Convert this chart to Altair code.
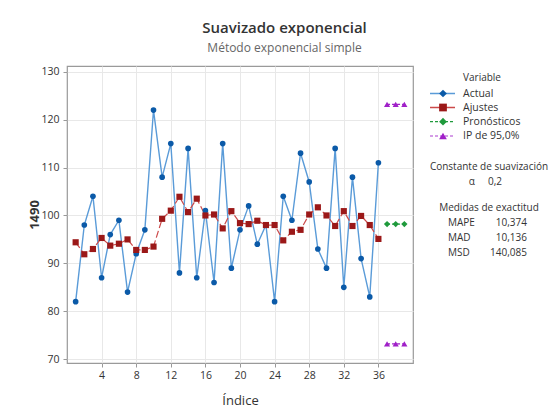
import altair as alt
import pandas as pd

# ---- data ----
indice = list(range(1, 37))
actual = [82, 98, 104, 87, 96, 99, 84, 92, 97, 122, 108, 115, 88, 114, 87, 101, 86, 115,
          89, 97, 102, 94, 98, 82, 104, 99, 113, 107, 93, 89, 114, 85, 108, 91, 83, 111]
ajustes = [94.4, 91.9, 93.0, 95.3, 93.7, 94.1, 95.0, 92.8, 92.8, 93.5, 99.3, 101.0, 103.9,
           100.7, 103.5, 100.0, 100.2, 97.3, 100.9, 98.4, 98.2, 98.9, 98.0, 98.0, 94.8, 96.6,
           97.0, 100.2, 101.7, 100.0, 97.8, 100.9, 97.8, 99.9, 98.0, 95.1]
indice_pron = [37, 38, 39]
pronosticos = [98.2, 98.2, 98.2]
ip_superior = [123.2, 123.2, 123.2]
ip_inferior = [73.2, 73.2, 73.2]
x_ticks = [4, 8, 12, 16, 20, 24, 28, 32, 36]
y_ticks = [70, 80, 90, 100, 110, 120, 130]
legend_items = ["Actual", "Ajustes", "Pronósticos", "IP de 95,0%"]
medidas = ["MAPE", "MAD", "MSD"]
medidas_val = ["10,374", "10,136", "140,085"]

df = pd.DataFrame({"Indice": indice, "Actual": actual, "Ajustes": ajustes})
dfp = pd.DataFrame({"Indice": indice_pron, "Pron": pronosticos,
                    "Sup": ip_superior, "Inf": ip_inferior})

W, H = 346, 297
FONT = "Open Sans"
C_ACT_L, C_ACT_P = "#5a9bd8", "#0b5aa8"
C_FIT_L, C_FIT_P = "#cc4a4a", "#9b1818"
C_PRO = "#1f9a3c"
C_IP_L, C_IP_P = "#c77ee0", "#a020c8"

xs = alt.Scale(domain=[0, 40], nice=False, zero=False)
ys = alt.Scale(domain=[69.2, 131.2], nice=False, zero=False)

xax = alt.Axis(values=x_ticks, title="Índice", grid=True, gridColor="#e8e8e8",
               labelFont=FONT, labelFontSize=10.5, labelColor="#333333",
               titleFont=FONT, titleFontSize=13, titleFontWeight="normal", titleColor="#333333",
               titleY=37, titleBaseline="middle", tickSize=4, tickColor="#999999",
               domain=False, labelPadding=3)
yax = alt.Axis(values=y_ticks, title="1490", grid=True, gridColor="#e8e8e8",
               labelFont=FONT, labelFontSize=10.5, labelColor="#333333",
               titleFont=FONT, titleFontSize=13, titleFontWeight="bold", titleColor="#333333",
               titleX=-33, titleY=H / 2, titleAngle=-90, titleAlign="center",
               titleBaseline="middle", tickSize=4, tickColor="#999999",
               domain=False, labelPadding=4)

base = alt.Chart(df)
act_line = base.mark_line(color=C_ACT_L, strokeWidth=1.4).encode(
    x=alt.X("Indice:Q", scale=xs, axis=xax), y=alt.Y("Actual:Q", scale=ys, axis=yax))
act_pts = base.mark_point(shape="circle", filled=True, opacity=1, size=32, color=C_ACT_P).encode(
    x=alt.X("Indice:Q", scale=xs), y=alt.Y("Actual:Q", scale=ys))
fit_line = base.mark_line(color=C_FIT_L, strokeWidth=1.2, strokeDash=[7, 3]).encode(
    x=alt.X("Indice:Q", scale=xs), y=alt.Y("Ajustes:Q", scale=ys))
fit_pts = base.mark_point(shape="square", filled=True, opacity=1, size=38, color=C_FIT_P).encode(
    x=alt.X("Indice:Q", scale=xs), y=alt.Y("Ajustes:Q", scale=ys))

pbase = alt.Chart(dfp)
pro_line = pbase.mark_line(color=C_PRO, strokeWidth=1.2, strokeDash=[3, 2]).encode(
    x=alt.X("Indice:Q", scale=xs), y=alt.Y("Pron:Q", scale=ys))
pro_pts = pbase.mark_point(shape="diamond", filled=True, opacity=1, size=40, color=C_PRO).encode(
    x=alt.X("Indice:Q", scale=xs), y=alt.Y("Pron:Q", scale=ys))
sup_line = pbase.mark_line(color=C_IP_P, strokeWidth=1.2, strokeDash=[3, 2]).encode(
    x=alt.X("Indice:Q", scale=xs), y=alt.Y("Sup:Q", scale=ys))
sup_pts = pbase.mark_point(shape="triangle-up", filled=True, opacity=1, size=38, color=C_IP_P).encode(
    x=alt.X("Indice:Q", scale=xs), y=alt.Y("Sup:Q", scale=ys))
inf_line = pbase.mark_line(color=C_IP_P, strokeWidth=1.2, strokeDash=[3, 2]).encode(
    x=alt.X("Indice:Q", scale=xs), y=alt.Y("Inf:Q", scale=ys))
inf_pts = pbase.mark_point(shape="triangle-up", filled=True, opacity=1, size=38, color=C_IP_P).encode(
    x=alt.X("Indice:Q", scale=xs), y=alt.Y("Inf:Q", scale=ys))

one = pd.DataFrame({"k": [0]})


def txt(t, x, y, size=10, align="center", color="#333333", weight="normal"):
    return alt.Chart(one).mark_text(text=t, font=FONT, fontSize=size, align=align,
                                    baseline="middle", color=color, fontWeight=weight).encode(
        x=alt.value(x), y=alt.value(y))


deco = [
    txt("Suavizado exponencial", 217.5, -38, size=15, color="#333333", weight=600),
    txt("Método exponencial simple", 217.5, -18, size=12, color="#666666"),
    txt("Variable", 415, 12),
]

# legend
leg_y = [27.5, 41.5, 55.7, 70]
leg_line_col = [C_ACT_L, C_FIT_L, C_PRO, C_IP_L]
leg_pt_col = [C_ACT_P, C_FIT_P, C_PRO, C_IP_P]
leg_shape = ["diamond", "square", "diamond", "triangle-up"]
leg_dash = [[1, 0], [1, 0], [3, 2], [3, 2]]
for name, yy, lc, pc, sh, da in zip(legend_items, leg_y, leg_line_col, leg_pt_col, leg_shape, leg_dash):
    deco.append(alt.Chart(one).mark_rule(color=lc, strokeWidth=1.3, strokeDash=da).encode(
        x=alt.value(363), x2=alt.value(388), y=alt.value(yy)))
    deco.append(alt.Chart(one).mark_point(shape=sh, filled=True, opacity=1, size=60, color=pc).encode(
        x=alt.value(376), y=alt.value(yy)))
    deco.append(txt(name, 396, yy, align="left", size=10.5))

deco += [
    txt("Constante de suavización", 422, 101),
    txt("α", 404.7, 116),
    txt("0,2", 421, 116, align="left"),
    txt("Medidas de exactitud", 422, 142),
]
for i, (m, v) in enumerate(zip(medidas, medidas_val)):
    yy = 157 + 15 * i
    deco.append(txt(m, 381, yy, align="left"))
    deco.append(txt(v, 460, yy, align="right"))

chart = alt.layer(act_line, fit_line, pro_line, sup_line, inf_line,
                  act_pts, fit_pts, pro_pts, sup_pts, inf_pts, *deco).properties(
    width=W, height=H,
    autosize=alt.AutoSizeParams(type="none"),
    padding={"left": 67, "top": 66, "right": 144, "bottom": 56},
    background="white",
).configure_view(stroke="#9a9a9a", strokeWidth=1.2)

chart.save("out.html", embed_options={"renderer": "svg", "actions": False})
